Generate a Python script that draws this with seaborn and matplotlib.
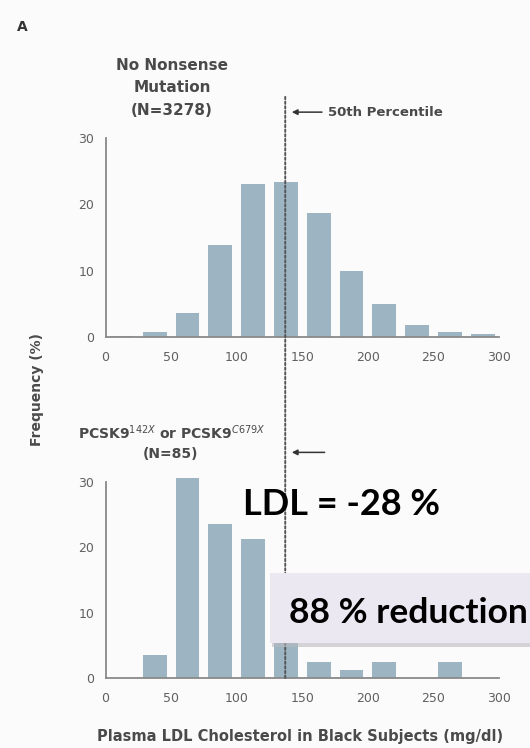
import matplotlib
matplotlib.use("Agg")
import matplotlib.pyplot as plt
from matplotlib.patches import Rectangle, ConnectionPatch
import numpy as np
import pandas as pd
import seaborn as sns

# LDL cholesterol bins (mg/dl), 25 wide from 0 to 300
bin_starts = [0, 25, 50, 75, 100, 125, 150, 175, 200, 225, 250, 275]
# Frequency (%) per bin
no_mutation_pct = [0.1, 0.7, 3.6, 13.9, 23.1, 23.3, 18.7, 9.9, 5.0, 1.8, 0.7, 0.4]
pcsk9_pct = [0.0, 3.5, 30.6, 23.5, 21.2, 12.9, 2.4, 1.2, 2.4, 0.0, 2.4, 0.0]
median_ldl = 137
x_ticks = [0, 50, 100, 150, 200, 250, 300]
y_ticks = [0, 10, 20, 30]

top_title = "No Nonsense\nMutation\n(N=3278)"
bottom_title = "PCSK9$^{142X}$ or PCSK9$^{C679X}$\n(N=85)"
x_label = "Plasma LDL Cholesterol in Black Subjects (mg/dl)"
y_label = "Frequency (%)"

sns.set_theme(style="white")
plt.rcParams["font.family"] = ["DejaVu Sans"]

W, H = 530, 748
bg = "#fbfbfb"
bar_color = "#9db5c3"
axis_color = "#8a8a8a"
text_color = "#4a4a4a"

fig = plt.figure(figsize=(W / 100, H / 100), dpi=100, facecolor=bg)


def fx(px):
    return px / W


def fy(py):
    return 1 - py / H


x0, x1 = 105.5, 499.1
ax_top = fig.add_axes([fx(x0), fy(337), (x1 - x0) / W, 199 / H])
ax_bot = fig.add_axes([fx(x0), fy(678), (x1 - x0) / W, 206 / H])

centers = [b + 12.5 for b in bin_starts]
frames = [
    (ax_top, pd.DataFrame({"ldl": centers, "pct": no_mutation_pct}), 30),
    (ax_bot, pd.DataFrame({"ldl": centers, "pct": pcsk9_pct}), 31.5),
]

for ax, df, ytop in frames:
    ax.set_facecolor(bg)
    sns.barplot(data=df, x="ldl", y="pct", native_scale=True, width=0.73,
                color=bar_color, saturation=1, errorbar=None, ax=ax,
                linewidth=0)
    ax.set_xlim(0, 300)
    ax.set_ylim(0, ytop)
    ax.set_xlabel("")
    ax.set_ylabel("")
    for s in ("top", "right"):
        ax.spines[s].set_visible(False)
    for s in ("left", "bottom"):
        ax.spines[s].set_color(axis_color)
        ax.spines[s].set_linewidth(1.3)
    ax.spines["left"].set_bounds(0, 30)
    ax.set_xticks(np.arange(0, 301, 25))
    ax.set_xticklabels([str(t) if t in x_ticks else "" for t in range(0, 301, 25)])
    ax.set_yticks(y_ticks)
    ax.set_yticklabels([str(t) for t in y_ticks])
    ax.tick_params(axis="both", direction="out", length=4, width=1.1,
                   color=axis_color, labelsize=9, labelcolor="#606060", pad=4)
    ax.tick_params(axis="x", pad=6)

# 50th-percentile marker running through both panels
line = ConnectionPatch(xyA=(median_ldl, 36.2), coordsA=ax_top.transData,
                       xyB=(median_ldl, 0), coordsB=ax_bot.transData,
                       linestyle=(0, (1.2, 1.2)), color="#555555", lw=1.4, zorder=2)
fig.add_artist(line)

arrow_kw = dict(arrowstyle="-|>", color="#333333", lw=1.1, mutation_scale=8,
                shrinkA=0, shrinkB=0)
ax_top.annotate("", xy=(142, 33.9), xytext=(165, 33.9), arrowprops=arrow_kw,
                annotation_clip=False)
ax_top.text(169.5, 33.9, "50th Percentile", fontsize=9.5, fontweight="bold",
            color=text_color, va="center", ha="left", clip_on=False)
ax_bot.annotate("", xy=(142, 34.5), xytext=(167, 34.5), arrowprops=arrow_kw,
                annotation_clip=False)

# Panel titles and labels
fig.text(fx(172), fy(88), top_title, ha="center", va="center", fontsize=11,
         fontweight="bold", color=text_color, linespacing=1.6)
fig.text(fx(171), fy(442), bottom_title, ha="center", va="center", fontsize=10,
         fontweight="bold", color=text_color, linespacing=1.5)
fig.text(fx(37), fy(390), y_label, rotation=90, ha="center", va="center",
         fontsize=10, fontweight="bold", color=text_color)
fig.text(fx(300), fy(736), x_label, ha="center", va="center", fontsize=10.5,
         fontweight="bold", color=text_color)
fig.text(fx(22), fy(27), "A", ha="center", va="center", fontsize=10,
         fontweight="bold", color="#333333")

# Highlight callouts
callout_font = ["Lato", "DejaVu Sans"]
fig.text(fx(243), fy(515), "LDL = -28 %", fontsize=26, fontweight="bold",
         family=callout_font, color="black", ha="left", va="baseline", zorder=7)

shadow = Rectangle((fx(272), fy(647)), 300 / W, 70 / H, transform=fig.transFigure,
                   facecolor="#b9b9bd", edgecolor="none", alpha=0.6, zorder=5)
box = Rectangle((fx(270), fy(643)), 300 / W, 70 / H, transform=fig.transFigure,
                facecolor="#ece8f2", edgecolor="none", zorder=6)
fig.add_artist(shadow)
fig.add_artist(box)
fig.text(fx(289), fy(623), "88 % reduction", fontsize=25.5, fontweight="bold",
         family=callout_font, color="black", ha="left", va="baseline", zorder=7)

fig.savefig("out.png", dpi=100, facecolor=bg)
